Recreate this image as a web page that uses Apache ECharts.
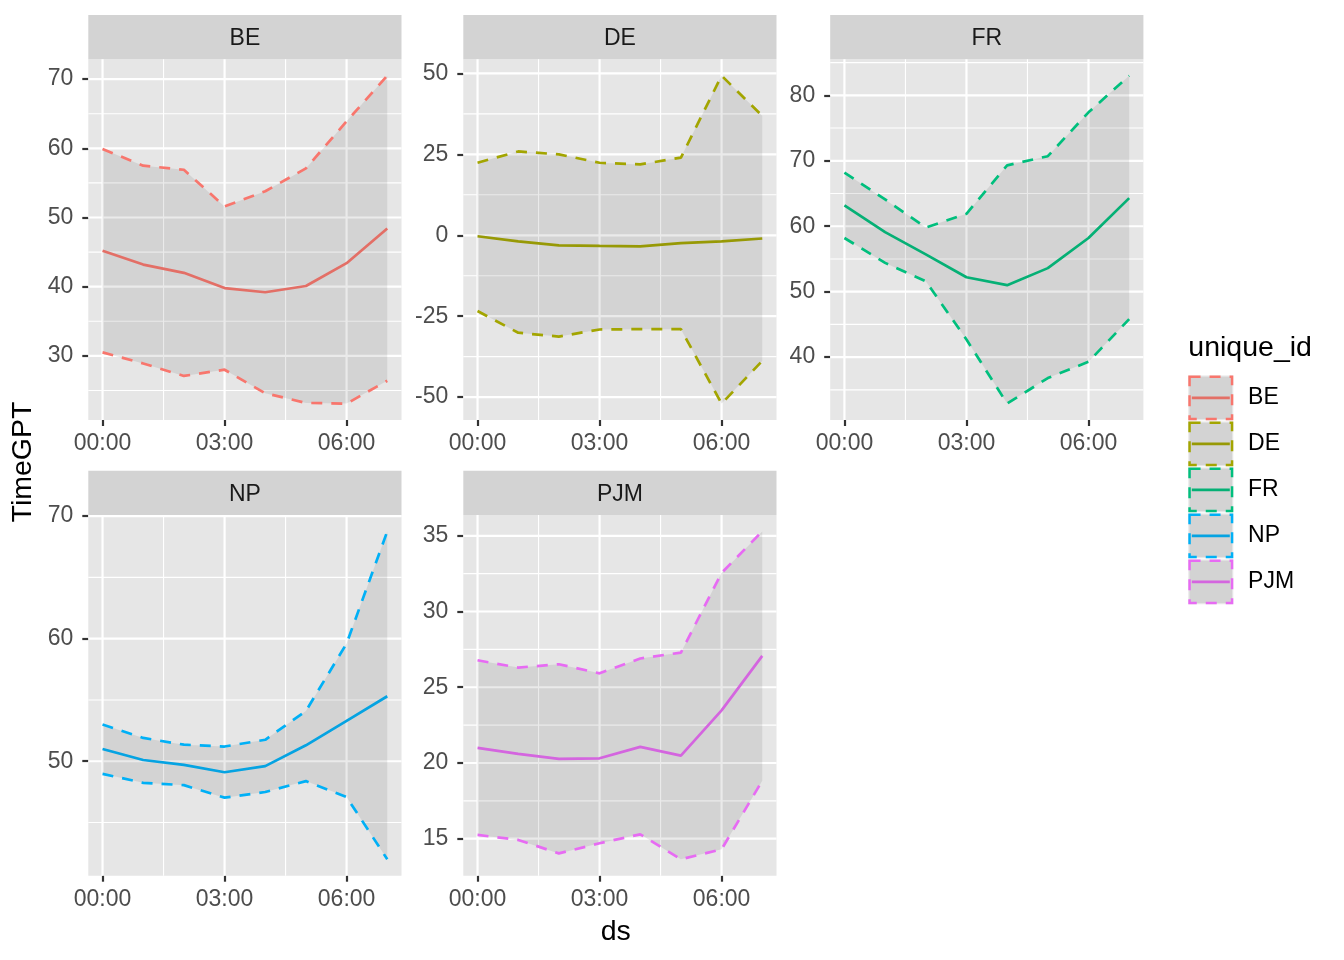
<!DOCTYPE html>
<html><head><meta charset="utf-8">
<script src="https://cdn.jsdelivr.net/npm/echarts@6/dist/echarts.min.js"></script>
<style>html,body{margin:0;padding:0;background:#fff}#c{width:1344px;height:960px}</style>
</head><body><div id="c"></div>
<script>
// ---------- data ----------
const ids = ['BE', 'DE', 'FR', 'NP', 'PJM'];
const ds = ['00:00', '01:00', '02:00', '03:00', '04:00', '05:00', '06:00', '07:00'];
const xTickLabels = ['00:00', '03:00', '06:00'];
const colors = ['#F8766D', '#A3A500', '#00BF7D', '#00B0F6', '#E76BF3'];

const meanBE = [45.2, 43.2, 42.0, 39.8, 39.2, 40.1, 43.4, 48.4];
const hiBE   = [59.9, 57.5, 56.9, 51.6, 53.8, 57.1, 63.9, 70.5];
const loBE   = [30.5, 28.9, 27.1, 28.0, 24.6, 23.2, 23.1, 26.4];

const meanDE = [-0.3, -1.9, -3.1, -3.3, -3.4, -2.4, -1.9, -1.0];
const hiDE   = [22.4, 25.9, 25.0, 22.4, 21.9, 24.0, 49.3, 36.9];
const loDE   = [-23.4, -30.1, -31.3, -29.1, -29.0, -29.0, -52.0, -38.8];

const meanFR = [63.2, 59.1, 55.7, 52.2, 51.0, 53.6, 58.2, 64.3];
const hiFR   = [68.2, 64.1, 59.8, 61.9, 69.3, 70.7, 77.4, 83.0];
const loFR   = [58.2, 54.4, 51.6, 42.7, 32.9, 36.8, 39.3, 45.8];

const meanNP = [51.0, 50.1, 49.7, 49.1, 49.6, 51.3, 53.3, 55.3];
const hiNP   = [53.0, 51.9, 51.35, 51.2, 51.75, 54.1, 59.6, 68.75];
const loNP   = [48.97, 48.24, 48.05, 47.03, 47.49, 48.38, 47.08, 42.0];

const meanPJM = [21.0, 20.6, 20.27, 20.31, 21.06, 20.49, 23.47, 27.07];
const hiPJM   = [26.78, 26.3, 26.52, 25.92, 26.9, 27.29, 32.55, 35.29];
const loPJM   = [15.25, 14.92, 14.03, 14.7, 15.29, 13.64, 14.3, 18.83];

const yTicksBE = [30, 40, 50, 60, 70];
const yTicksDE = [-50, -25, 0, 25, 50];
const yTicksFR = [40, 50, 60, 70, 80];
const yTicksNP = [50, 60, 70];
const yTicksPJM = [15, 20, 25, 30, 35];

// ---------- build ----------
const FONT = 'Liberation Sans, Arial, Helvetica, sans-serif';
const PANEL_BG = '#E6E6E6', STRIP_BG = '#D3D3D3', BAND_FILL = 'rgba(51,51,51,0.1)';
const panels = [
  { id: 'BE', mean: meanBE, hi: hiBE, lo: loBE, yt: yTicksBE },
  { id: 'DE', mean: meanDE, hi: hiDE, lo: loDE, yt: yTicksDE },
  { id: 'FR', mean: meanFR, hi: hiFR, lo: loFR, yt: yTicksFR },
  { id: 'NP', mean: meanNP, hi: hiNP, lo: loNP, yt: yTicksNP },
  { id: 'PJM', mean: meanPJM, hi: hiPJM, lo: loPJM, yt: yTicksPJM }
];
const xs = ds.map(t => parseInt(t.split(':')[0], 10));
const xTickVals = xTickLabels.map(t => parseInt(t.split(':')[0], 10));
const xLo = Math.min(...xs), xHi = Math.max(...xs);
const xPad = (xHi - xLo) * 0.05;

function minorOf(majors, lo, hi) {
  const out = [];
  if (majors.length < 2) return out;
  const step = majors[1] - majors[0];
  out.push(majors[0] - step / 2);
  majors.forEach(m => out.push(m + step / 2));
  return out.filter(v => v > lo && v < hi);
}

const colLeft = [88.3, 463.3, 830.2];
const rowTop = [59.3, 515];
const PW = 313.2, PH = 360.7, SH = 44.3;

const grids = [], xAxes = [], yAxes = [], series = [], graphics = [];

panels.forEach((p, k) => {
  const col = k % 3, row = Math.floor(k / 3);
  const left = colLeft[col], top = rowTop[row];
  grids.push({ left: left, top: top, width: PW, height: PH, show: true, backgroundColor: PANEL_BG, borderWidth: 0 });
  const yLo = Math.min(...p.lo, ...p.mean), yHi = Math.max(...p.hi, ...p.mean);
  const yPad = (yHi - yLo) * 0.05;
  const yMin = yLo - yPad, yMax = yHi + yPad;
  xAxes.push({
    type: 'value', gridIndex: k, min: xLo - xPad, max: xHi + xPad, position: 'bottom',
    axisLine: { show: false, onZero: false }, splitLine: { show: false },
    axisTick: { show: true, inside: false, length: 6, lineStyle: { color: '#333333', width: 2.2 }, customValues: xTickVals },
    axisLabel: { customValues: xTickVals, color: '#4D4D4D', fontSize: 23, fontFamily: FONT, margin: 12,
      formatter: v => xTickLabels[xTickVals.indexOf(v)] }
  });
  yAxes.push({
    type: 'value', gridIndex: k, min: yMin, max: yMax, position: 'left',
    axisLine: { show: false, onZero: false }, splitLine: { show: false },
    axisTick: { show: true, inside: false, length: 6, lineStyle: { color: '#333333', width: 2.2 }, customValues: p.yt },
    axisLabel: { customValues: p.yt, color: '#4D4D4D', fontSize: 23, fontFamily: FONT, margin: 15 }
  });
  const yMinor = minorOf(p.yt, yMin, yMax);
  const xMinor = minorOf(xTickVals, xLo - xPad, xHi + xPad);
  const c = colors[k];
  // gridlines
  series.push({
    type: 'custom', name: p.id + '_grid', xAxisIndex: k, yAxisIndex: k, z: 1, silent: true,
    data: [[xs[0], p.mean[0]]],
    renderItem: (params, api) => {
      if (params.dataIndex !== 0) return null;
      const cs = params.coordSys;
      const ch = [];
      const h = (v, w) => { const y = api.coord([xs[0], v])[1]; ch.push({ type: 'line', shape: { x1: cs.x, y1: y, x2: cs.x + cs.width, y2: y }, style: { stroke: '#FFFFFF', lineWidth: w } }); };
      const vv = (v, w) => { const x = api.coord([v, p.mean[0]])[0]; ch.push({ type: 'line', shape: { x1: x, y1: cs.y, x2: x, y2: cs.y + cs.height }, style: { stroke: '#FFFFFF', lineWidth: w } }); };
      yMinor.forEach(v => h(v, 1.1));
      xMinor.forEach(v => vv(v, 1.1));
      p.yt.forEach(v => h(v, 2.2));
      xTickVals.forEach(v => vv(v, 2.2));
      return { type: 'group', children: ch };
    }
  });
  // mean line (under ribbon)
  series.push({
    type: 'line', name: p.id, xAxisIndex: k, yAxisIndex: k, z: 2,
    data: xs.map((x, i) => [x, p.mean[i]]), symbol: 'none', showSymbol: false,
    lineStyle: { color: c, width: 2.7 }, itemStyle: { color: c }
  });
  // ribbon fill
  series.push({
    type: 'custom', name: p.id + '_band', xAxisIndex: k, yAxisIndex: k, z: 3, silent: true, clip: true,
    data: xs.map((x, i) => [x, p.lo[i], p.hi[i]]),
    encode: { x: 0, y: [1, 2] },
    renderItem: (params, api) => {
      if (params.dataIndex !== 0) return null;
      const pts = [];
      for (let i = 0; i < xs.length; i++) pts.push(api.coord([xs[i], p.hi[i]]));
      for (let i = xs.length - 1; i >= 0; i--) pts.push(api.coord([xs[i], p.lo[i]]));
      return { type: 'polygon', shape: { points: pts }, style: { fill: BAND_FILL } };
    }
  });
  // dashed bounds
  [['_hi', p.hi], ['_lo', p.lo]].forEach(([suf, arr]) => {
    series.push({
      type: 'line', name: p.id + suf, xAxisIndex: k, yAxisIndex: k, z: 4,
      data: xs.map((x, i) => [x, arr[i]]), symbol: 'none', showSymbol: false,
      lineStyle: { color: c, width: 2.7, type: [11, 9] }, itemStyle: { color: c }
    });
  });
  // strip
  graphics.push({ type: 'rect', shape: { x: left, y: top - SH, width: PW, height: SH }, style: { fill: STRIP_BG }, silent: true });
  graphics.push({ type: 'text', x: left + PW / 2, y: top - SH / 2 + 1.5, silent: true,
    style: { text: p.id, fontSize: 23, fontFamily: FONT, fill: '#1A1A1A', align: 'center', verticalAlign: 'middle' } });
});

graphics.push({ type: 'text', x: 615.7, y: 932, silent: true,
  style: { text: 'ds', fontSize: 28.5, fontFamily: FONT, fill: '#000000', align: 'center', verticalAlign: 'middle' } });
graphics.push({ type: 'text', x: 23.5, y: 462, rotation: Math.PI / 2, silent: true,
  style: { text: 'TimeGPT', fontSize: 28.5, fontFamily: FONT, fill: '#000000', align: 'center', verticalAlign: 'middle' } });
graphics.push({ type: 'text', x: 1188.3, y: 348, silent: true,
  style: { text: 'unique_id', fontSize: 28.5, fontFamily: FONT, fill: '#000000', align: 'left', verticalAlign: 'middle' } });

const KEY_W = 45, KEY_H = 44.7, KEY_GAP = 1.3, KEY_BORDER = 2.5;
const legendBase = {
  orient: 'vertical', left: 1188.3, top: 375.5, itemWidth: KEY_W, itemHeight: KEY_H, itemGap: KEY_GAP, padding: 0,
  selectedMode: false, icon: 'rect', symbolKeepAspect: true
};
const legends = [
  Object.assign({}, legendBase, {
    z: 1, textStyle: { fontSize: 23, fontFamily: FONT, color: 'rgba(0,0,0,0)', padding: [0, 0, 0, 11] },
    data: ids.map(id => ({ name: id, itemStyle: { color: PANEL_BG, borderWidth: 0 } }))
  }),
  Object.assign({}, legendBase, {
    z: 2, icon: 'path://M0,0M45,0M3.5,0L41.5,0L41.5,2.7L3.5,2.7Z',
    textStyle: { fontSize: 23, fontFamily: FONT, color: 'rgba(0,0,0,0)', padding: [0, 0, 0, 11], lineHeight: KEY_H },
    data: ids.map((id, i) => ({ name: id, itemStyle: { color: colors[i], borderWidth: 0 } }))
  }),
  Object.assign({}, legendBase, {
    z: 3,
    itemWidth: KEY_W - KEY_BORDER, itemHeight: KEY_H - KEY_BORDER, itemGap: KEY_GAP,
    textStyle: { fontSize: 23, fontFamily: FONT, color: '#000000', padding: [0, 0, 0, 11] },
    data: ids.map((id, i) => ({ name: id, itemStyle: { color: BAND_FILL, borderColor: colors[i], borderWidth: KEY_BORDER, borderType: [11, 9] } }))
  })
];

const chart = echarts.init(document.getElementById('c'), null, { renderer: 'canvas' });
chart.setOption({
  backgroundColor: '#FFFFFF',
  animation: false,
  grid: grids, xAxis: xAxes, yAxis: yAxes, series: series,
  legend: legends, graphic: graphics
});
</script></body></html>
